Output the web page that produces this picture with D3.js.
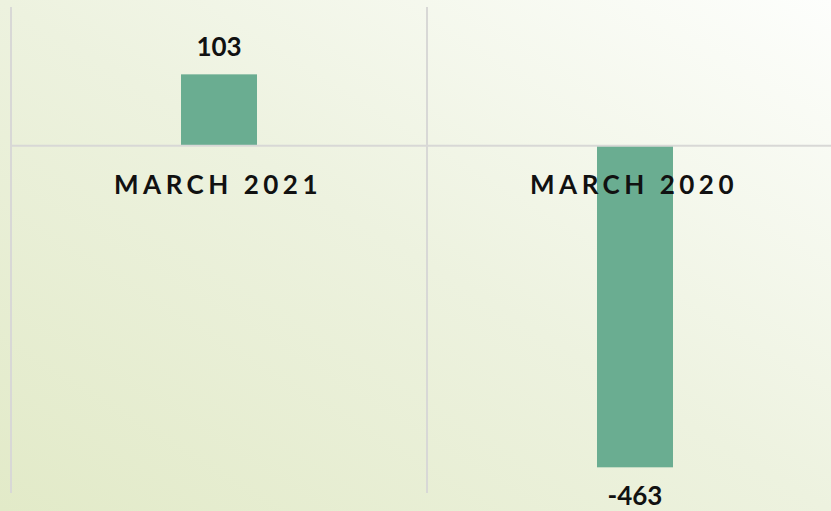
<!DOCTYPE html>
<html>
<head>
<meta charset="utf-8">
<script src="https://cdn.jsdelivr.net/npm/d3@7"></script>
<style>
  html, body { margin: 0; padding: 0; }
  body { width: 831px; height: 511px; overflow: hidden; }
  text { font-family: "Lato", "Open Sans", sans-serif; fill: #111; }
</style>
</head>
<body>
<div id="container"></div>
<script>
/* CONSTANTS AND GLOBALS */
const width = 831;
const height = 511;

/* DATA */
const categories = ['MARCH 2021', 'MARCH 2020'];
const values = [103, -463];
const yTicks = [-500, 200];

const data = categories.map((c, i) => ({ label: c, value: values[i] }));

/* SCALES */
const xScale = d3.scaleBand()
  .domain(categories)
  .range([11, 843])
  .paddingInner(0)
  .paddingOuter(0);

const yScale = d3.scaleLinear()
  .domain([yTicks[0], yTicks[1]])
  .range([493, 7]);

const barW = 76;

/* HTML ELEMENTS */
const svg = d3.select("#container")
  .append("svg")
  .attr("width", width)
  .attr("height", height);

const defs = svg.append("defs");
const grad = defs.append("linearGradient")
  .attr("id", "bg")
  .attr("x1", "0%").attr("y1", "100%")
  .attr("x2", "100%").attr("y2", "0%");
grad.append("stop").attr("offset", "0%").attr("stop-color", "#e2eac8");
grad.append("stop").attr("offset", "50%").attr("stop-color", "#edf2df");
grad.append("stop").attr("offset", "100%").attr("stop-color", "#fdfefc");

svg.append("rect")
  .attr("width", width)
  .attr("height", height)
  .attr("fill", "url(#bg)");

// vertical category gridlines
svg.append("g")
  .selectAll("line")
  .data(categories)
  .join("line")
  .attr("x1", d => xScale(d))
  .attr("x2", d => xScale(d))
  .attr("y1", yScale(yTicks[1]))
  .attr("y2", yScale(yTicks[0]))
  .attr("stroke", "#d8d8d6")
  .attr("stroke-width", 2);

// bars
svg.selectAll("rect.bar")
  .data(data)
  .join("rect")
  .attr("class", "bar")
  .attr("x", d => xScale(d.label) + xScale.bandwidth() / 2 - barW / 2)
  .attr("width", barW)
  .attr("y", d => yScale(Math.max(0, d.value)))
  .attr("height", d => Math.abs(yScale(d.value) - yScale(0)))
  .attr("fill", "#6aad91");

// zero line
svg.append("line")
  .attr("x1", xScale.range()[0])
  .attr("x2", width)
  .attr("y1", yScale(0))
  .attr("y2", yScale(0))
  .attr("stroke", "#d8d8d6")
  .attr("stroke-width", 2);

// category labels
svg.selectAll("text.cat")
  .data(data)
  .join("text")
  .attr("class", "cat")
  .attr("x", d => xScale(d.label) + xScale.bandwidth() / 2 - 1)
  .attr("y", yScale(0) + 48)
  .attr("text-anchor", "middle")
  .style("font-size", "26px")
  .style("font-weight", "700")
  .style("letter-spacing", "4.5px")
  .text(d => d.label);

// value labels
svg.selectAll("text.val")
  .data(data)
  .join("text")
  .attr("class", "val")
  .attr("x", d => xScale(d.label) + xScale.bandwidth() / 2)
  .attr("y", d => d.value >= 0 ? yScale(d.value) - 18 : yScale(d.value) + 38)
  .attr("text-anchor", "middle")
  .style("font-size", "26px")
  .style("font-weight", "700")
  .text(d => d.value);
</script>
</body>
</html>
